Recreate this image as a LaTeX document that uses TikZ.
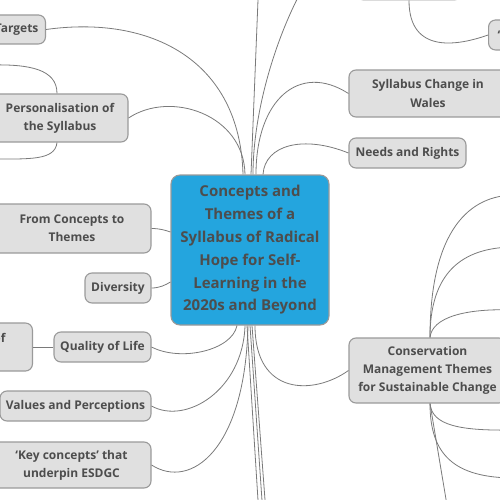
\documentclass[tikz,border=0pt]{standalone}
\usepackage{fontspec}
\setmainfont{Open Sans}
\usepackage{xcolor}
\usepackage{tikz}
\usetikzlibrary{positioning}
\definecolor{hubblue}{HTML}{24A5DE}
\definecolor{topicgray}{HTML}{E0E0E0}
\definecolor{rimgray}{HTML}{9A9A9A}
\definecolor{inkgray}{HTML}{4D4D4D}
\definecolor{linkgray}{HTML}{7A7A7A}
\tikzset{
  branch/.style={draw=linkgray,line width=0.8pt},
  base/.style={draw=rimgray,line width=1.1pt,rounded corners=7pt,align=center,
               inner sep=0pt,text=inkgray,font=\fontsize{12}{18}\selectfont\bfseries},
  central/.style={base,fill=hubblue,rounded corners=9pt,
                  font=\fontsize{15}{22.8}\selectfont\bfseries},
  topic/.style={base,fill=topicgray}
}

\begin{document}
\begin{tikzpicture}[x=1pt,y=-1pt]
  \path[use as bounding box,clip] (0,0) rectangle (500,500);
  \node[central,minimum width=158pt,minimum height=150pt] (hub) at (250,250) {Concepts and\\Themes of a\\Syllabus of Radical\\Hope for Self-\\Learning in the\\2020s and Beyond};
  \node[topic,anchor=east,minimum height=29pt,inner xsep=7pt] (targets) at (46,29.5) {Targets};
  \node[topic,minimum width=136pt,minimum height=48pt] (personal) at (60,118) {Personalisation of\\the Syllabus};
  \node[topic,minimum width=158pt,minimum height=49pt] (fromconc) at (72,228.5) {From Concepts to\\Themes};
  \node[topic,minimum width=66pt,minimum height=30pt] (diversity) at (118,288) {Diversity};
  \node[topic,minimum width=97pt,minimum height=30pt] (qol) at (102.5,347) {Quality of Life};
  \node[topic,anchor=east,minimum height=48pt,inner xsep=27pt] (lifeof) at (33,347) {of\\\mbox{}};
  \node[topic,minimum width=151pt,minimum height=30pt] (values) at (75.5,406) {Values and Perceptions};
  \node[topic,minimum width=159pt,minimum height=46pt] (keyconc) at (71.5,465) {‘Key concepts’ that\\underpin ESDGC};
  \node[topic,minimum width=158pt,minimum height=47pt] (syllchange) at (428,93.5) {Syllabus Change in\\Wales};
  \node[topic,minimum width=117pt,minimum height=30pt] (needs) at (407.5,153) {Needs and Rights};
  \node[topic,minimum width=157pt,minimum height=65pt] (conserv) at (427.5,370.5) {Conservation\\Management Themes\\for Sustainable Change};
  \node[topic,anchor=south,minimum width=104pt,minimum height=40pt] (upper) at (409,0.5) {};
  \node[topic,anchor=west,minimum height=30pt,inner xsep=9pt,text width=40pt,align=left] (quote) at (488,35) {‘};
  \coordinate (up1) at (259.6,-40);
  \coordinate (up2) at (340,-60);
  \coordinate (down1) at (260.5,540);
  \coordinate (down2) at (264.7,540);
  \coordinate (down3) at (268,540);
  \coordinate (leftup) at (-10,65);
  \coordinate (leftdown) at (-10,159);
  \coordinate (rightA) at (515,195);
  \coordinate (rightB) at (515,247);
  \coordinate (rightC) at (515,310);
  \coordinate (rightD) at (515,430);
  \coordinate (rightE) at (515,478);
  \coordinate (rightF) at (452.8,540);
  \draw[branch] (targets.east) .. controls +(104,-14.5) and +(-3,-115) .. ([xshift=-7pt]hub.north);
  \draw[branch] (personal.east) .. controls +(42,-28) and +(-1,-60) .. ([xshift=-5pt]hub.north);
  \draw[branch] ([xshift=1pt]hub.north) -- (up1);
  \draw[branch] ([xshift=3pt]hub.north) .. controls +(0,-90) and +(-40,30) .. (up2);
  \draw[branch] (syllchange.west) .. controls +(-49,-31.5) and +(0,-75) .. ([xshift=6pt]hub.north);
  \draw[branch] (needs.west) .. controls +(-44.5,-18) and +(2,-30) .. ([xshift=13pt]hub.north);
  \draw[branch] (fromconc.east) .. controls +(8,0) and +(-6,-2) .. ([yshift=18pt]hub.west);
  \draw[branch] (diversity.east) .. controls +(8,0) and +(-5,3) .. ([yshift=-32pt]hub.west);
  \draw[branch] (qol.east) .. controls +(29,15) and +(-5,25) .. ([xshift=-13pt]hub.south);
  \draw[branch] (values.east) .. controls +(34,19) and +(-2,65) .. ([xshift=-5pt]hub.south);
  \draw[branch] (keyconc.east) .. controls +(39,25) and +(-3,125) .. ([xshift=-2pt]hub.south);
  \draw[branch] (conserv.west) .. controls +(-35,25) and +(0,70) .. ([xshift=5pt]hub.south);
  \draw[branch] ([xshift=-3pt]hub.south) -- (down1);
  \draw[branch] (hub.south) -- (down2);
  \draw[branch] ([xshift=2pt]hub.south) -- (down3);
  \draw[branch] (qol.west) -- (lifeof.east);
  \draw[branch] ([xshift=-3pt]personal.north) .. controls +(0,-24) and +(40,-1) .. (leftup);
  \draw[branch] ([xshift=-3pt]personal.south) .. controls +(-2,18) and +(40,0) .. (leftdown);
  \draw[branch] (upper.south) .. controls +(0,55) and +(-28,10) .. (quote.west);
  \draw[branch] ([xshift=2.5pt]conserv.north) .. controls +(0,-108) and +(-45,0) .. (rightA);
  \draw[branch] ([xshift=2.5pt]conserv.north) .. controls +(0,-63) and +(-55,0) .. (rightB);
  \draw[branch] ([xshift=2.5pt]conserv.north) .. controls +(2,-20) and +(-50,-2) .. (rightC);
  \draw[branch] ([xshift=2.5pt]conserv.south) .. controls +(2,22) and +(-55,1) .. (rightD);
  \draw[branch] ([xshift=2.5pt]conserv.south) .. controls +(0,52) and +(-60,0) .. (rightE);
  \draw[branch] ([xshift=2.5pt]conserv.south) -- (rightF);
\end{tikzpicture}
\end{document}
